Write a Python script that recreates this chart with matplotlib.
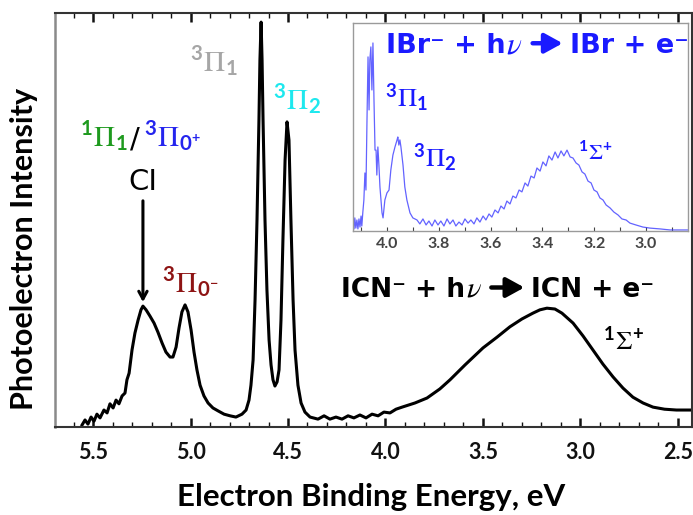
import matplotlib
matplotlib.use("Agg")
import matplotlib.pyplot as plt
from matplotlib.patches import FancyArrowPatch
from matplotlib.ticker import MultipleLocator, FormatStrFormatter

plt.rcParams.update({
    "font.family": ["Lato", "DejaVu Sans"],
    "mathtext.fontset": "custom",
    "mathtext.rm": "STIXGeneral:weight=normal",
    "mathtext.it": "STIXGeneral:style=italic:weight=normal",
    "mathtext.bf": "Lato:weight=bold",
})

# ICN- photoelectron spectrum: electron binding energy (eV), relative intensity
icn_energy = [
    5.556, 5.541, 5.526, 5.510, 5.495, 5.480, 5.464, 5.444, 5.428, 5.413,
    5.397, 5.382, 5.367, 5.351, 5.336, 5.326, 5.315, 5.300, 5.285, 5.269,
    5.254, 5.244, 5.228, 5.208, 5.187, 5.167, 5.146, 5.126, 5.105, 5.090,
    5.074, 5.059, 5.044, 5.028, 5.013, 4.997, 4.982, 4.967, 4.951, 4.931,
    4.910, 4.885, 4.859, 4.828, 4.797, 4.767, 4.736, 4.715, 4.700, 4.690,
    4.679, 4.669, 4.659, 4.649, 4.644, 4.638, 4.633, 4.628, 4.618, 4.608,
    4.597, 4.587, 4.577, 4.567, 4.556, 4.546, 4.536, 4.526, 4.515, 4.505,
    4.495, 4.485, 4.474, 4.464, 4.449, 4.433, 4.413, 4.387, 4.346, 4.315,
    4.285, 4.254, 4.223, 4.192, 4.162, 4.131, 4.100, 4.069, 4.038, 4.008,
    3.977, 3.946, 3.915, 3.849, 3.787, 3.721, 3.669, 3.592, 3.500, 3.428,
    3.362, 3.300, 3.244, 3.208, 3.172, 3.131, 3.095, 3.038, 2.987, 2.936,
    2.885, 2.833, 2.782, 2.731, 2.679, 2.628, 2.569, 2.508, 2.431,
]
icn_intensity = [
    0.005, 0.017, 0.007, 0.024, 0.014, 0.031, 0.022, 0.041, 0.034, 0.056,
    0.046, 0.065, 0.056, 0.075, 0.082, 0.114, 0.130, 0.186, 0.227, 0.258,
    0.283, 0.292, 0.283, 0.268, 0.251, 0.229, 0.203, 0.181, 0.169, 0.169,
    0.193, 0.239, 0.278, 0.295, 0.278, 0.234, 0.181, 0.138, 0.101, 0.075,
    0.058, 0.046, 0.039, 0.031, 0.027, 0.024, 0.031, 0.041, 0.065, 0.101,
    0.162, 0.307, 0.500, 0.742, 0.886, 0.978, 0.886, 0.742, 0.500, 0.331,
    0.210, 0.150, 0.114, 0.099, 0.109, 0.138, 0.258, 0.452, 0.645, 0.737,
    0.693, 0.500, 0.307, 0.186, 0.101, 0.058, 0.036, 0.024, 0.019, 0.027,
    0.019, 0.024, 0.019, 0.027, 0.022, 0.029, 0.022, 0.031, 0.027, 0.036,
    0.034, 0.043, 0.048, 0.058, 0.070, 0.092, 0.114, 0.150, 0.191, 0.217,
    0.242, 0.261, 0.275, 0.283, 0.287, 0.285, 0.275, 0.251, 0.220, 0.186,
    0.152, 0.121, 0.094, 0.072, 0.058, 0.048, 0.043, 0.041, 0.041,
]

# IBr- photoelectron spectrum (inset)
ibr_energy = [
    4.131, 4.127, 4.124, 4.120, 4.116, 4.112, 4.108, 4.104, 4.100, 4.097,
    4.093, 4.089, 4.085, 4.081, 4.077, 4.073, 4.069, 4.066, 4.062, 4.058,
    4.054, 4.050, 4.046, 4.042, 4.039, 4.035, 4.031, 4.027, 4.023, 4.019,
    4.015, 4.008, 4.000, 3.992, 3.985, 3.977, 3.969, 3.961, 3.958, 3.954,
    3.950, 3.946, 3.938, 3.931, 3.923, 3.911, 3.900, 3.884, 3.873, 3.861,
    3.849, 3.838, 3.826, 3.815, 3.803, 3.792, 3.780, 3.768, 3.757, 3.745,
    3.734, 3.722, 3.710, 3.699, 3.687, 3.676, 3.664, 3.653, 3.641, 3.629,
    3.618, 3.606, 3.595, 3.583, 3.571, 3.560, 3.548, 3.537, 3.525, 3.514,
    3.502, 3.490, 3.479, 3.467, 3.456, 3.444, 3.432, 3.421, 3.409, 3.398,
    3.386, 3.375, 3.363, 3.351, 3.340, 3.328, 3.317, 3.305, 3.293, 3.282,
    3.270, 3.259, 3.247, 3.236, 3.224, 3.212, 3.201, 3.189, 3.178, 3.166,
    3.154, 3.139, 3.124, 3.108, 3.093, 3.077, 3.062, 3.039, 3.012, 2.985,
    2.946, 2.907, 2.838,
]
ibr_intensity = [
    0.043, 0.010, 0.063, 0.014, 0.053, 0.010, 0.058, 0.019, 0.072, 0.024,
    0.091, 0.149, 0.279, 0.197, 0.534, 0.837, 0.582, 0.822, 0.885, 0.678,
    0.904, 0.630, 0.389, 0.389, 0.269, 0.404, 0.317, 0.212, 0.149, 0.087,
    0.063, 0.149, 0.183, 0.197, 0.293, 0.365, 0.404, 0.438, 0.452, 0.413,
    0.438, 0.404, 0.317, 0.212, 0.149, 0.087, 0.063, 0.053, 0.034, 0.058,
    0.029, 0.048, 0.024, 0.053, 0.029, 0.048, 0.024, 0.058, 0.034, 0.053,
    0.024, 0.043, 0.029, 0.058, 0.038, 0.053, 0.034, 0.063, 0.043, 0.072,
    0.053, 0.082, 0.067, 0.101, 0.087, 0.120, 0.106, 0.144, 0.130, 0.168,
    0.159, 0.197, 0.188, 0.231, 0.216, 0.264, 0.255, 0.303, 0.288, 0.332,
    0.313, 0.361, 0.341, 0.380, 0.351, 0.385, 0.361, 0.389, 0.356, 0.351,
    0.327, 0.317, 0.284, 0.274, 0.240, 0.231, 0.197, 0.188, 0.159, 0.149,
    0.125, 0.111, 0.091, 0.077, 0.058, 0.053, 0.038, 0.029, 0.019, 0.014,
    0.010, 0.005, 0.005,
]

main_ticks = [5.5, 5.0, 4.5, 4.0, 3.5, 3.0, 2.5]
inset_ticks = [4.0, 3.8, 3.6, 3.4, 3.2, 3.0]

W, H = 693, 515
fig = plt.figure(figsize=(W / 100, H / 100), dpi=100)
renderer = fig.canvas.get_renderer()


def fpos(x, y):
    """Pixel position (from top-left) to figure fraction."""
    return x / W, 1 - y / H


def frect(x0, y0, x1, y1):
    return [x0 / W, 1 - y1 / H, (x1 - x0) / W, (y1 - y0) / H]


def label(x, y, s, color, size, **kw):
    kw.setdefault("ha", "left")
    kw.setdefault("va", "baseline")
    return fig.text(*fpos(x, y), s, color=color, fontsize=size, **kw)


def reaction(x, y, left, right, color, size, arrow_len):
    """'left h(nu) -> right' laid out piece by piece from pixel (x, y)."""
    bold = dict(family=["DejaVu Sans"], fontweight="bold")
    em = size * 100 / 72
    t = label(x, y, left + " h", color, size, **bold)
    cur = t.get_window_extent(renderer).x1 + 1
    t = label(cur, y, "\u03bd", color, size * 1.15, family=["STIXGeneral"],
              style="italic")
    cur = t.get_window_extent(renderer).x1 + 0.42 * em
    ay = y - 0.36 * em
    fig.add_artist(FancyArrowPatch(
        fpos(cur, ay), fpos(cur + arrow_len, ay), transform=fig.transFigure,
        arrowstyle="-|>,head_length=0.6,head_width=0.33", mutation_scale=18,
        lw=3.2, color=color, shrinkA=0, shrinkB=0))
    label(cur + arrow_len + 0.27 * em, y, right, color, size, **bold)


# ---- main spectrum -------------------------------------------------------
ax = fig.add_axes(frect(55, 13, 692, 427))
ax.plot(icn_energy, icn_intensity, color="black", lw=2.2, solid_joinstyle="round")
ax.set_xlim(5.695, 2.428)
ax.set_ylim(0, 1)
ax.set_yticks([])
ax.set_xticks(main_ticks)
ax.xaxis.set_major_formatter(FormatStrFormatter("%.1f"))
ax.xaxis.set_minor_locator(MultipleLocator(0.1))
ax.tick_params(axis="x", which="both", direction="in", top=True, bottom=True,
               labelsize=15.5, pad=11, colors="#111111")
ax.tick_params(axis="x", which="major", length=6.5, width=1.8)
ax.tick_params(axis="x", which="minor", length=3.5, width=1.0)
for lbl in ax.get_xticklabels():
    lbl.set_fontweight("bold")
for side in ("top", "bottom", "right"):
    ax.spines[side].set_color("#333333")
    ax.spines[side].set_linewidth(1.5)
ax.spines["left"].set_color("#8a8a8a")
ax.spines["left"].set_linewidth(1.8)

ax.set_xlabel("Electron Binding Energy, eV", fontsize=22.5, fontweight="bold")
ax.xaxis.set_label_coords(0.496, -0.135)
ax.set_ylabel("Photoelectron Intensity", fontsize=22, fontweight="bold")
ax.yaxis.set_label_coords(-0.027, 0.43)

# CI arrow pointing at the first band
ax.annotate("", xy=(5.244, 0.295), xytext=(5.244, 0.553),
            arrowprops=dict(arrowstyle="->,head_length=0.55,head_width=0.3",
                            lw=2.2, color="black"))

# state labels
label(190, 72, r"$^{\mathbf{3}}\Pi_{\mathbf{1}}$", "#a6a6a6", 21)
label(273, 110, r"$^{\mathbf{3}}\Pi_{\mathbf{2}}$", "#1ee8ee", 21)
label(80, 147, r"$^{\mathbf{1}}\Pi_{\mathbf{1}}$", "#1e9a1e", 21)
label(130, 147, "/", "black", 21, family=["DejaVu Sans"])
label(144, 147, r"$^{\mathbf{3}}\Pi_{\mathbf{0^{+}}}$", "#2525ee", 21)
label(143, 190, "CI", "black", 21, ha="center", family=["DejaVu Sans"])
label(162, 293, r"$^{\mathbf{3}}\Pi_{\mathbf{0^{-}}}$", "#8e1414", 21)
label(603, 350, r"$^{\mathbf{1}}\Sigma^{\mathbf{+}}$", "black", 19)

reaction(341, 297, "ICN\u207b +", "ICN + e\u207b", "black", 19, 33)

# ---- inset: IBr- spectrum ----------------------------------------------
axi = fig.add_axes(frect(353, 23, 688, 231))
axi.plot(ibr_energy, ibr_intensity, color="#3c3cff", lw=0.9, alpha=0.8)
axi.set_xlim(4.131, 2.838)
axi.set_ylim(0, 1)
axi.set_yticks([])
axi.set_xticks(inset_ticks)
axi.xaxis.set_major_formatter(FormatStrFormatter("%.1f"))
axi.xaxis.set_minor_locator(MultipleLocator(0.1))
axi.tick_params(axis="x", which="both", direction="in", length=3, width=0.8,
                labelsize=11.5, pad=4, colors="#444444")
for lbl in axi.get_xticklabels():
    lbl.set_fontweight("bold")
for sp in axi.spines.values():
    sp.set_color("#9a9a9a")
    sp.set_linewidth(1.0)

reaction(386, 53, "IBr\u207b +", "IBr + e\u207b", "#1a1aff", 19.5, 30)
label(385, 107, r"$^{\mathbf{3}}\Pi_{\mathbf{1}}$", "#1a1aff", 19)
label(413, 167, r"$^{\mathbf{3}}\Pi_{\mathbf{2}}$", "#1a1aff", 19)
label(578, 160, r"$^{\mathbf{1}}\Sigma^{\mathbf{+}}$", "#1a1aff", 16)

fig.savefig("out.png", dpi=100)
